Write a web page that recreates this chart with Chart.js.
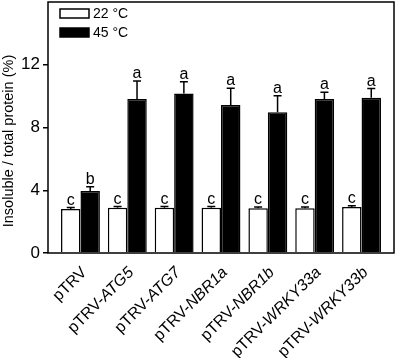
<!DOCTYPE html>
<html>
<head>
<meta charset="utf-8">
<script src="https://cdn.jsdelivr.net/npm/chart.js@4.4.1/dist/chart.umd.min.js"></script>
<style>
  html, body { margin: 0; padding: 0; background: #fff; }
  canvas { display: block; }
</style>
</head>
<body>
<canvas id="chart" width="397" height="358"></canvas>
<script>
// data
const genes = ["", "ATG5", "ATG7", "NBR1a", "NBR1b", "WRKY33a", "WRKY33b"];
const mean22 = [2.80, 2.88, 2.88, 2.88, 2.85, 2.86, 2.93];
const err22 = [0.10, 0.08, 0.08, 0.08, 0.08, 0.08, 0.08];
const mean45 = [3.96, 9.82, 10.16, 9.44, 8.97, 9.82, 9.90];
const err45 = [0.26, 1.14, 0.76, 1.06, 1.06, 0.42, 0.58];
const letters22 = ["c", "c", "c", "c", "c", "c", "c"];
const letters45 = ["b", "a", "a", "a", "a", "a", "a"];
const yTicks = [0, 4, 8, 12];
const seriesNames = ["22 °C", "45 °C"];

const FONT = "Arial, 'Liberation Sans', Helvetica, sans-serif";

const toPoints = (arr) => arr.map((v, i) => ({ x: i, y: v }));

// error bars, letters, frame, legend, rotated labels
const overlay = {
    id: "overlay",
    afterDatasetsDraw(chart) {
        const ctx = chart.ctx;
        const ys = chart.scales.y;
        const xs = chart.scales.x;
        const area = chart.chartArea;
        const groups = [[mean22, err22, letters22], [mean45, err45, letters45]];

        ctx.save();
        ctx.strokeStyle = "#000";
        ctx.fillStyle = "#000";
        ctx.lineWidth = 1.5;
        groups.forEach(([m, e, l], di) => {
            const meta = chart.getDatasetMeta(di);
            meta.data.forEach((bar, i) => {
                const yBase = ys.getPixelForValue(m[i]);
                const yTop = ys.getPixelForValue(m[i] + e[i]);
                ctx.beginPath();
                ctx.moveTo(bar.x, yBase);
                ctx.lineTo(bar.x, yTop);
                ctx.moveTo(bar.x - 4, yTop);
                ctx.lineTo(bar.x + 4, yTop);
                ctx.stroke();

                ctx.font = "16px " + FONT;
                ctx.textAlign = "center";
                ctx.textBaseline = "alphabetic";
                ctx.fillText(l[i], bar.x, yTop - 3);
            });
        });

        // frame
        ctx.lineWidth = 1.5;
        ctx.strokeRect(area.left, area.top, area.right - area.left, area.bottom - area.top);

        // legend inside the plot
        const lx = area.left + 12;
        const boxes = [{ fill: "#fff", top: area.top + 7 }, { fill: "#000", top: area.top + 26 }];
        ctx.font = "14px " + FONT;
        ctx.textAlign = "left";
        ctx.textBaseline = "middle";
        boxes.forEach((b, i) => {
            ctx.fillStyle = b.fill;
            ctx.fillRect(lx, b.top, 29, 9);
            ctx.strokeRect(lx, b.top, 29, 9);
            ctx.fillStyle = "#000";
            ctx.fillText(seriesNames[i], lx + 33, b.top + 5);
        });

        // x labels: "pTRV-" upright, gene name italic
        genes.forEach((g, i) => {
            const px = xs.getPixelForValue(i);
            const base = g ? "pTRV-" : "pTRV";
            ctx.save();
            ctx.translate(px + 4, area.bottom + 17);
            ctx.rotate(-Math.PI / 4);
            ctx.textBaseline = "middle";
            ctx.textAlign = "left";
            ctx.font = "italic 16px " + FONT;
            const w2 = g ? ctx.measureText(g).width : 0;
            ctx.font = "16px " + FONT;
            const w1 = ctx.measureText(base).width;
            ctx.fillText(base, -(w1 + w2), 0);
            if (g) {
                ctx.font = "italic 16px " + FONT;
                ctx.fillText(g, -w2, 0);
            }
            ctx.restore();
        });

        // y title
        ctx.save();
        ctx.translate(9, 141);
        ctx.rotate(-Math.PI / 2);
        ctx.font = "14.5px " + FONT;
        ctx.textAlign = "center";
        ctx.textBaseline = "middle";
        ctx.fillText("Insoluble / total protein (%)", 0, 0);
        ctx.restore();
        ctx.restore();
    },
};

new Chart(document.getElementById("chart"), {
    type: "bar",
    data: {
        datasets: [
            {
                label: seriesNames[0],
                data: toPoints(mean22),
                backgroundColor: "#fff",
                borderColor: "#000",
                borderWidth: 1.5,
            },
            {
                label: seriesNames[1],
                data: toPoints(mean45),
                backgroundColor: "#000",
                borderColor: "#000",
                borderWidth: 1.5,
            },
        ],
    },
    options: {
        responsive: false,
        animation: false,
        layout: { padding: { top: 2, right: 3, left: 0, bottom: 0 } },
        datasets: { bar: { categoryPercentage: 0.83, barPercentage: 1.0 } },
        plugins: {
            legend: { display: false },
            tooltip: { enabled: false },
        },
        scales: {
            x: {
                type: "linear",
                offset: false,
                min: -0.693,
                max: 6.693,
                ticks: { display: false },
                grid: { display: false },
                border: { display: false },
                afterFit: (scale) => {
                    scale.height = 105;
                    scale.paddingLeft = 0;
                    scale.paddingRight = 0;
                },
            },
            y: {
                min: 0,
                max: 16,
                afterBuildTicks: (scale) => {
                    scale.ticks = yTicks.map((v) => ({ value: v }));
                },
                ticks: {
                    color: "#000",
                    padding: 3,
                    font: { family: FONT, size: 17 },
                },
                grid: {
                    drawOnChartArea: false,
                    drawTicks: true,
                    tickLength: 5,
                    color: "#000",
                    lineWidth: 1.5,
                },
                border: { display: false },
                afterFit: (scale) => {
                    scale.width = 48;
                    scale.paddingTop = 0;
                    scale.paddingBottom = 0;
                },
            },
        },
    },
    plugins: [overlay],
});
</script>
</body>
</html>
